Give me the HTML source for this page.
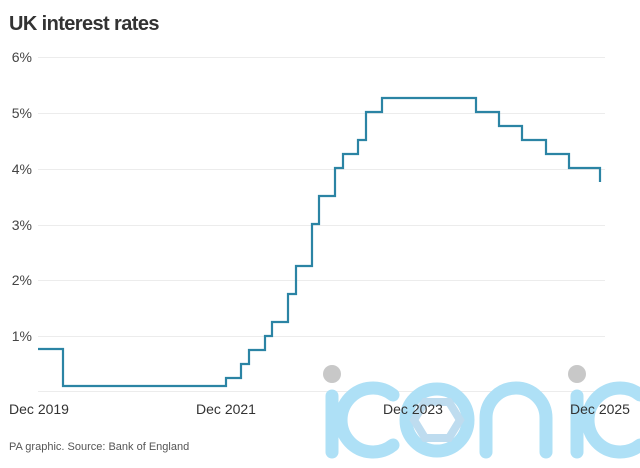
<!DOCTYPE html>
<html><head><meta charset="utf-8"><style>
body{margin:0;background:#fff;width:640px;height:463px;overflow:hidden;font-family:"Liberation Sans",sans-serif;}
</style></head><body>
<svg width="640" height="463" viewBox="0 0 640 463" xmlns="http://www.w3.org/2000/svg" font-family="Liberation Sans, sans-serif">
<text x="9" y="30" font-size="20" font-weight="bold" fill="#333" letter-spacing="-0.6">UK interest rates</text>
<g stroke="#ececec" stroke-width="1">
<line x1="38" x2="605" y1="57.5" y2="57.5"/>
<line x1="38" x2="605" y1="113.5" y2="113.5"/>
<line x1="38" x2="605" y1="169.5" y2="169.5"/>
<line x1="38" x2="605" y1="225.5" y2="225.5"/>
<line x1="38" x2="605" y1="280.5" y2="280.5"/>
<line x1="38" x2="605" y1="336.5" y2="336.5"/>
<line x1="38" x2="605" y1="391.5" y2="391.5"/>
</g>
<g font-size="14" fill="#444" text-anchor="end">
<text x="32" y="62">6%</text>
<text x="32" y="118">5%</text>
<text x="32" y="174">4%</text>
<text x="32" y="230">3%</text>
<text x="32" y="285">2%</text>
<text x="32" y="341">1%</text>
</g>
<g fill="none" stroke="#aee0f6" stroke-width="13" stroke-linecap="round">
<line x1="332" y1="396" x2="332" y2="452"/>
<path d="M393 395 A32 32 0 1 0 393 445"/>
<circle cx="437" cy="420" r="31"/>
<path d="M486 452 V418 A30 30 0 0 1 546 418 V452"/>
<line x1="577" y1="396" x2="577" y2="452"/>
<path d="M640 395 A32 32 0 1 0 640 445"/>
</g>
<polygon points="425,402 449,402 460,420 449,438 425,438 414,420" fill="none" stroke="#bedcef" stroke-width="8"/>
<circle cx="332" cy="374" r="9" fill="#c8c8c8"/>
<circle cx="577" cy="374" r="9" fill="#c8c8c8"/>
<path fill="none" stroke="#2b84a4" stroke-width="2.2" d="M38 349 H63 V386 H226 V378 H241 V364 H249 V350 H265 V336 H272 V322 H288 V294 H296 V266 H312 V224 H319 V196 H335 V168 H343 V154 H358 V140 H366 V112 H382 V98 H476 V112 H499 V126 H522 V140 H546 V154 H569 V168 H600 V182"/>
<g font-size="14" fill="#333" text-anchor="middle">
<text x="39" y="414">Dec 2019</text>
<text x="226" y="414">Dec 2021</text>
<text x="413" y="414">Dec 2023</text>
<text x="600" y="414">Dec 2025</text>
</g>
<text x="9" y="450" font-size="11" fill="#555">PA graphic. Source: Bank of England</text>
</svg>
</body></html>
